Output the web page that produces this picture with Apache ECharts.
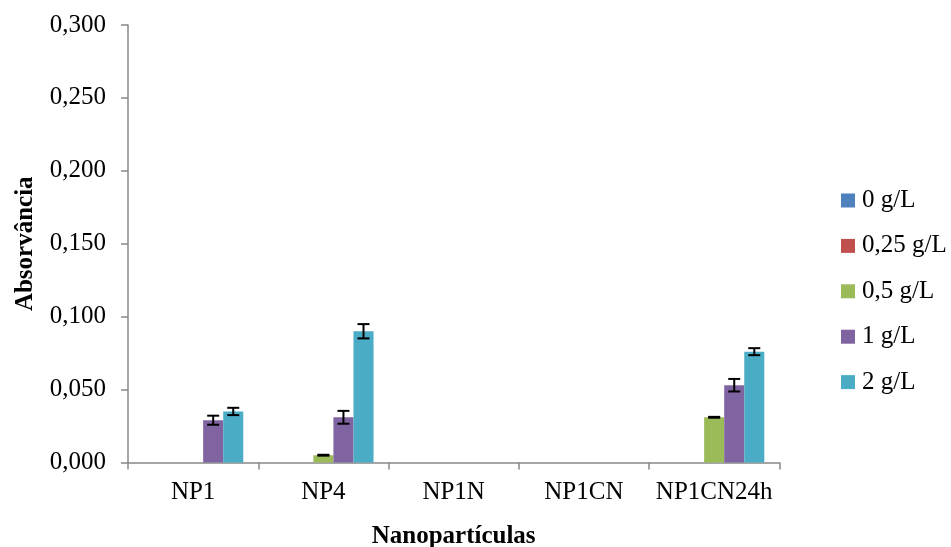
<!DOCTYPE html>
<html>
<head>
<meta charset="utf-8">
<script src="https://cdn.jsdelivr.net/npm/echarts@6/dist/echarts.min.js"></script>
<style>
  html, body { margin: 0; padding: 0; background: #fff; }
  #chart { width: 951px; height: 547px; }
</style>
</head>
<body>
<div id="chart"></div>
<script>
// Categories (nanoparticles) and concentration series
const categories = ['NP1', 'NP4', 'NP1N', 'NP1CN', 'NP1CN24h'];
const seriesNames = ['0 g/L', '0,25 g/L', '0,5 g/L', '1 g/L', '2 g/L'];

// Mean absorbance per concentration
const abs0 = [0, 0, 0, 0, 0];
const abs025 = [0, 0, 0, 0, 0];
const abs05 = [0, 0.005, 0, 0, 0.031];
const abs1 = [0.029, 0.031, 0, 0, 0.053];
const abs2 = [0.035, 0.090, 0, 0, 0.076];

// Standard deviation per concentration (null = no error bar)
const err0 = [null, null, null, null, null];
const err025 = [null, null, null, null, null];
const err05 = [null, 0.0003, null, null, 0.0003];
const err1 = [0.0031, 0.0044, null, null, 0.0043];
const err2 = [0.0025, 0.0049, null, null, 0.0024];

// Y axis ticks
const yMin = 0, yMax = 0.3, yStep = 0.05;

const colors = ['#4F81BD', '#C0504D', '#9BBB59', '#8064A2', '#4BACC6'];
const values = [abs0, abs025, abs05, abs1, abs2];
const errors = [err0, err025, err05, err1, err2];

const serif = "'Liberation Serif', 'Times New Roman', serif";
const catGap = 0.23;
const nSeries = seriesNames.length;

const series = [];
seriesNames.forEach((name, i) => {
  series.push({
    name: name,
    type: 'bar',
    data: values[i],
    itemStyle: { color: colors[i] },
    barGap: '0%',
    barCategoryGap: (catGap * 100) + '%',
    emphasis: { disabled: true }
  });
});

// Error bars, drawn over the matching bar in each group
seriesNames.forEach((name, i) => {
  const data = [];
  categories.forEach((c, k) => {
    if (errors[i][k] != null) data.push([k, values[i][k], errors[i][k]]);
  });
  series.push({
    type: 'custom',
    name: name + ' err',
    data: data,
    z: 10,
    silent: true,
    renderItem: function (params, api) {
      const k = api.value(0), v = api.value(1), e = api.value(2);
      const catW = api.size([1, 0])[0];
      const barW = catW * (1 - catGap) / nSeries;
      const cx = api.coord([k, v])[0] + (i - (nSeries - 1) / 2) * barW;
      const yHi = api.coord([k, v + e])[1];
      const yLo = api.coord([k, v - e])[1];
      const cap = 6;
      const style = { stroke: '#000', lineWidth: 2, fill: null };
      return {
        type: 'group',
        children: [
          { type: 'line', shape: { x1: cx, y1: yHi, x2: cx, y2: yLo }, style: style },
          { type: 'line', shape: { x1: cx - cap, y1: yHi, x2: cx + cap, y2: yHi }, style: style },
          { type: 'line', shape: { x1: cx - cap, y1: yLo, x2: cx + cap, y2: yLo }, style: style }
        ]
      };
    }
  });
});

const chart = echarts.init(document.getElementById('chart'), null, { renderer: 'canvas' });
chart.setOption({
  animation: false,
  backgroundColor: '#fff',
  textStyle: { fontFamily: serif },
  grid: { left: 128, right: 171.7, top: 25, bottom: 84.5, containLabel: false, outerBoundsMode: 'none' },
  legend: {
    data: seriesNames,
    orient: 'vertical',
    left: 841,
    top: 188,
    padding: 0,
    itemWidth: 14,
    itemHeight: 14,
    itemGap: 20.4,
    icon: 'rect',
    textStyle: { fontFamily: serif, fontSize: 25, color: '#000', lineHeight: 25, padding: [0, 0, 0, 2] }
  },
  xAxis: {
    type: 'category',
    data: categories,
    name: 'Nanopartículas',
    nameLocation: 'middle',
    nameGap: 62,
    nameTextStyle: { fontFamily: serif, fontSize: 25, fontWeight: 'bold', color: '#000' },
    axisLine: { lineStyle: { color: '#888', width: 1.5 } },
    axisTick: { show: true, length: 7, lineStyle: { color: '#888', width: 1.5 } },
    axisLabel: { fontFamily: serif, fontSize: 25, color: '#000', margin: 17, interval: 0 },
    splitLine: { show: false }
  },
  yAxis: {
    type: 'value',
    min: yMin,
    max: yMax,
    interval: yStep,
    name: 'Absorvância',
    nameLocation: 'middle',
    nameGap: 90,
    nameRotate: 90,
    nameTextStyle: { fontFamily: serif, fontSize: 25, fontWeight: 'bold', color: '#000' },
    axisLine: { show: true, lineStyle: { color: '#888', width: 1.5 } },
    axisTick: { show: true, length: 7, lineStyle: { color: '#888', width: 1.5 } },
    axisLabel: {
      fontFamily: serif, fontSize: 25, color: '#000', margin: 22,
      formatter: v => v.toFixed(3).replace('.', ',')
    },
    splitLine: { show: false }
  },
  series: series
});
</script>
</body>
</html>
